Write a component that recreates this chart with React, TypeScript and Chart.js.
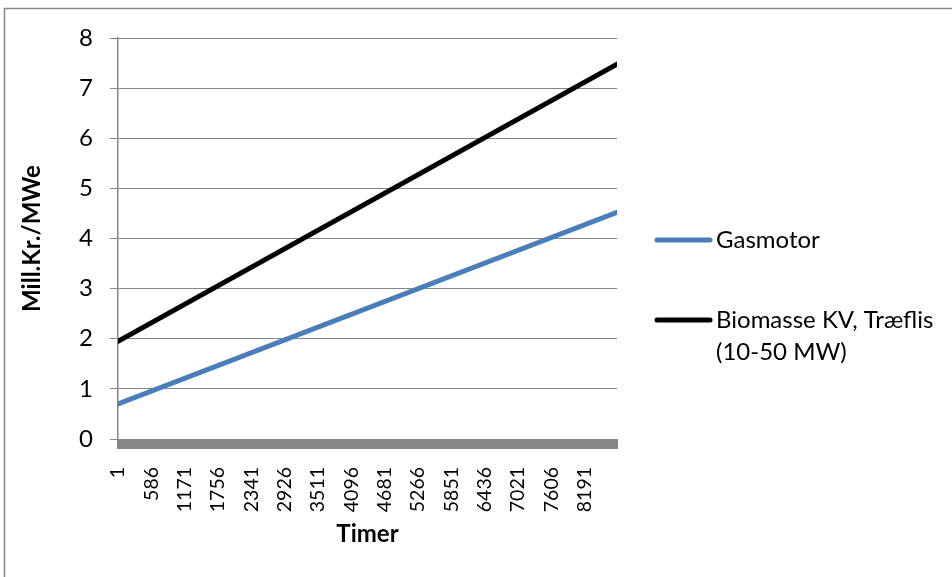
import React, { useEffect, useRef } from "react";
import { Chart, registerables } from "chart.js";

Chart.register(...registerables);

// Hours (first and last hour of the year)
const hours = [1, 8760];
// Series values (Mill.Kr./MWe)
const gasmotor = [0.7, 4.52];
const biomasse = [1.95, 7.48];
// Category tick labels shown on the x axis
const xTickLabels = [
  "1", "586", "1171", "1756", "2341", "2926", "3511", "4096",
  "4681", "5266", "5851", "6436", "7021", "7606", "8191",
];
const seriesNames = ["Gasmotor", "Biomasse KV, Træflis (10-50 MW)"];
const legendLines = [["Gasmotor"], ["Biomasse KV, Træflis", "(10-50 MW)"]];
const seriesColors = ["#4A7EBB", "#000000"];
const yMin = 0;
const yMax = 8;

const FONT = "Lato, 'Noto Sans', sans-serif";
const GRAY = "#868686";

const decorPlugin = {
  id: "decor",
  afterDraw(chart: any) {
    const ctx = chart.ctx;
    const { left, right, bottom } = chart.chartArea;
    ctx.save();
    // thick axis band below zero
    ctx.fillStyle = GRAY;
    ctx.fillRect(left - 1, bottom, right - left + 2, 10);
    // outer border (left and top visible)
    ctx.strokeStyle = GRAY;
    ctx.lineWidth = 1.5;
    ctx.beginPath();
    ctx.moveTo(4.5, 600);
    ctx.lineTo(4.5, 8.5);
    ctx.lineTo(960, 8.5);
    ctx.stroke();
    // legend
    const lx = right + 40;
    const ys = [240, 320];
    ctx.font = `24px ${FONT}`;
    ctx.textBaseline = "middle";
    ctx.textAlign = "left";
    chart.data.datasets.forEach((ds: any, i: number) => {
      const y = ys[i];
      ctx.strokeStyle = ds.borderColor;
      ctx.lineWidth = 5;
      ctx.lineCap = "round";
      ctx.beginPath();
      ctx.moveTo(lx, y);
      ctx.lineTo(lx + 53, y);
      ctx.stroke();
      ctx.fillStyle = "#000";
      legendLines[i].forEach((t, j) => {
        ctx.fillText(t, lx + 59, y + j * 32);
      });
    });
    ctx.restore();
  },
};

export default function App() {
  const ref = useRef<HTMLCanvasElement>(null);
  useEffect(() => {
    if (!ref.current) return;
    const chart = new Chart(ref.current, {
      type: "line",
      data: {
        datasets: [gasmotor, biomasse].map((vals, i) => ({
          label: seriesNames[i],
          data: hours.map((h, k) => ({ x: h, y: vals[k] })),
          borderColor: seriesColors[i],
          backgroundColor: seriesColors[i],
          borderWidth: 5,
          borderCapStyle: "round" as const,
          pointRadius: 0,
          tension: 0,
        })),
      },
      options: {
        responsive: false,
        animation: false,
        layout: { padding: { left: 0, right: 335, top: 38, bottom: 0 } },
        plugins: {
          legend: { display: false },
          tooltip: { enabled: false },
        },
        scales: {
          x: {
            type: "linear",
            min: hours[0],
            max: hours[hours.length - 1],
            afterBuildTicks: (scale: any) => {
              scale.ticks = xTickLabels.map((t) => ({ value: Number(t) }));
            },
            afterFit: (scale: any) => {
              scale.height = 138;
            },
            grid: { display: false },
            border: { display: false },
            ticks: {
              autoSkip: false,
              minRotation: 90,
              maxRotation: 90,
              padding: 20,
              color: "#000",
              font: { family: FONT, size: 19.5 },
              callback: (v: any) => String(v),
            },
            title: {
              display: true,
              text: "Timer",
              color: "#000",
              font: { family: FONT, size: 24, weight: "bold" },
              padding: { top: 0, bottom: 28 },
            },
          },
          y: {
            min: yMin,
            max: yMax,
            afterFit: (scale: any) => {
              scale.width = 118;
            },
            grid: {
              color: GRAY,
              lineWidth: 1,
              tickLength: 8,
              drawTicks: true,
            },
            border: { display: true, color: GRAY, width: 1.5 },
            ticks: {
              stepSize: 1,
              padding: 17,
              color: "#000",
              font: { family: FONT, size: 24 },
            },
            title: {
              display: true,
              text: "Mill.Kr./MWe",
              color: "#000",
              font: { family: FONT, size: 24, weight: "bold" },
              padding: { top: 18, bottom: 0 },
            },
          },
        },
      },
      plugins: [decorPlugin],
    });
    return () => chart.destroy();
  }, []);
  return (
    <div style={{ position: "absolute", left: 0, top: 0, width: 952, height: 577, background: "#fff" }}>
      <canvas ref={ref} width={952} height={577} />
    </div>
  );
}
